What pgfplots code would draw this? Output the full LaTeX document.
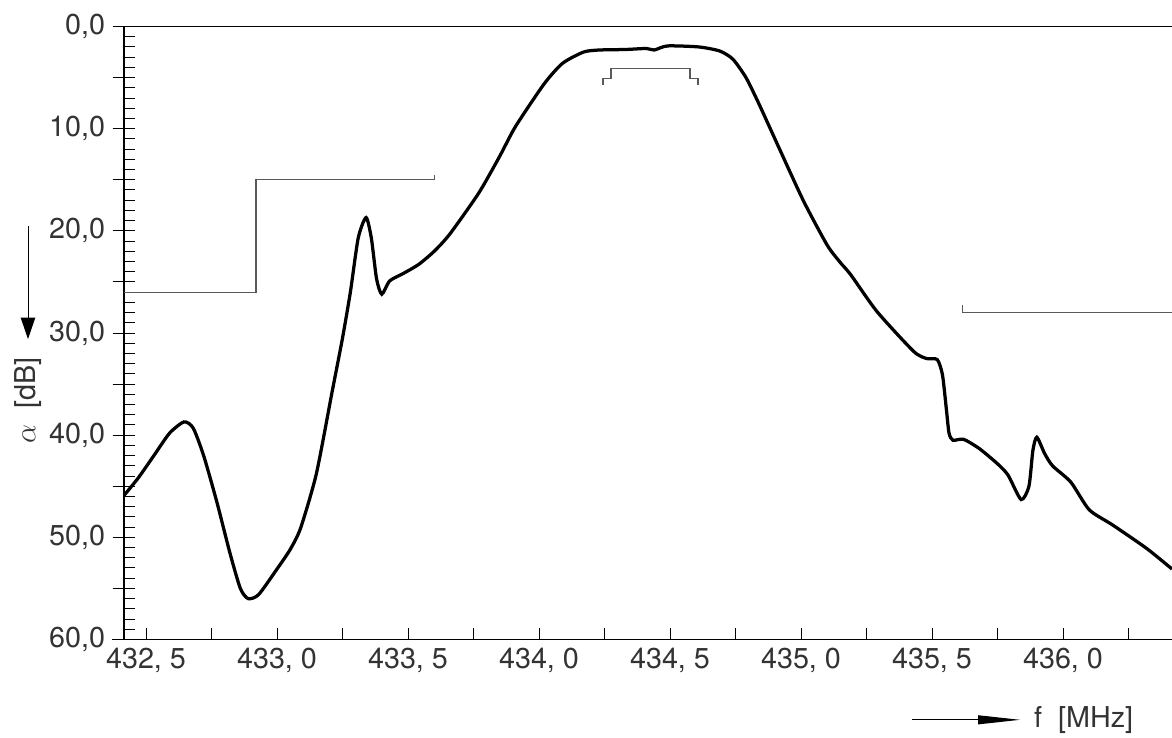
\documentclass[border=0pt]{standalone}
\usepackage{pgfplots}
\pgfplotsset{compat=1.18}
\usepackage{fontspec}
\setmainfont{TeX Gyre Heros}
\begin{document}
\begin{tikzpicture}
\useasboundingbox (0pt,0pt) rectangle (468.8pt,294.8pt);
\begin{axis}[at={(49.6pt,39pt)},anchor=south west,
  scale only axis, width=419.2pt, height=245.2pt,
  xmin=432.416, xmax=436.416, ymin=0, ymax=60, y dir=reverse,
  axis x line=bottom, axis y line=left, axis line style={-},
  y axis line style={line width=1.1pt},
  xtick={432.5,433,...,436}, xticklabels={{432, 5},{433, 0},{433, 5},{434, 0},{434, 5},{435, 0},{435, 5},{436, 0}},
  minor xtick={432.75,433.25,...,436.3},
  ytick={0,10,...,60}, yticklabels={{0,0},{10,0},{20,0},{30,0},{40,0},{50,0},{60,0}},
  minor ytick={1,2,3,4,6,7,8,9,11,12,13,14,16,17,18,19,21,22,23,24,26,27,28,29,31,32,33,34,36,37,38,39,41,42,43,44,46,47,48,49,51,52,53,54,56,57,58,59},
  extra y ticks={0,5,...,60}, extra y tick labels={},
  extra y tick style={tick align=center, major tick length=9pt},
  tick align=inside, major tick length=4.5pt, minor tick length=4.5pt,
  tick style={black, line width=0.4pt},
  ticklabel style={font=\fontsize{11.5}{12}\selectfont, text=black!80},
  yticklabel style={xshift=-4pt},
  clip=false,
]
\draw[line width=0.5pt] (axis cs:432.416,0) -- (axis cs:436.416,0);
\draw[line width=0.5pt] (axis cs:432.37,60) -- (axis cs:432.416,60);
% masks
\addplot[gray!70!black, line width=0.5pt] coordinates {(432.416,26) (432.92,26) (432.92,15) (433.60,15) (433.60,14.5)};
\addplot[gray!70!black, line width=0.5pt] coordinates {(434.244,5.7) (434.244,5.1) (434.275,5.1) (434.275,4.1) (434.576,4.1) (434.576,5.1) (434.607,5.1) (434.607,5.7)};
\addplot[gray!70!black, line width=0.5pt] coordinates {(435.615,27.3) (435.615,28.0) (436.416,28.0)};
% response
\addplot[black, line width=1.3pt, smooth, tension=0.4] coordinates {
(432.416,45.9) (432.47,44.2) (432.53,42.0) (432.59,39.8) (432.645,38.7) (432.68,39.3) (432.72,42.0)
(432.77,46.5) (432.82,51.5) (432.86,55.0) (432.89,56.0) (432.93,55.6) (433.0,53.1) (433.05,51.2) (433.09,49.1)
(433.15,43.8) (433.21,35.8) (433.25,30.5) (433.28,26.0) (433.31,20.7) (433.34,18.7) (433.36,20.7)
(433.38,24.7) (433.40,26.2) (433.43,24.9) (433.48,24.2) (433.54,23.3) (433.60,22.0) (433.66,20.3)
(433.77,16.3) (433.85,12.7) (433.91,9.8) (434.02,5.6) (434.09,3.6) (434.17,2.5) (434.23,2.3) (434.33,2.25)
(434.41,2.15) (434.44,2.3) (434.49,1.9) (434.61,2.0) (434.69,2.4) (434.74,3.2) (434.79,5.0) (434.84,7.6)
(434.92,12.1) (435.01,17.1) (435.10,21.4) (435.15,23.1) (435.19,24.3) (435.29,27.9) (435.43,31.8) (435.48,32.5)
(435.52,32.6) (435.54,34.1) (435.555,37.5) (435.565,39.8) (435.58,40.5) (435.62,40.4) (435.68,41.3) (435.75,42.8)
(435.79,43.9) (435.84,46.3) (435.87,45.0) (435.885,41.5) (435.90,40.2) (435.93,41.8) (435.96,43.0) (436.03,44.6)
(436.10,47.3) (436.19,48.8) (436.32,51.1) (436.416,53.1)};
% labels
\node[rotate=90, font=\fontsize{11.5}{12}\selectfont, text=black!80] at (axis description cs:-0.0916,0.39) {$\alpha$\ \ [dB]};
\draw[line width=0.4pt] (axis description cs:-0.0916,0.674) -- (axis description cs:-0.0916,0.52);
\fill (axis description cs:-0.0986,0.525) -- (axis description cs:-0.0846,0.525) -- (axis description cs:-0.0916,0.49) -- cycle;
\node[anchor=west, font=\fontsize{11.5}{12}\selectfont, text=black!80] at (axis description cs:0.86,-0.131) {f\ \ [MHz]};
\draw[line width=0.4pt] (axis description cs:0.752,-0.131) -- (axis description cs:0.82,-0.131);
\fill (axis description cs:0.815,-0.1385) -- (axis description cs:0.815,-0.1235) -- (axis description cs:0.855,-0.131) -- cycle;
\end{axis}
\end{tikzpicture}
\end{document}
